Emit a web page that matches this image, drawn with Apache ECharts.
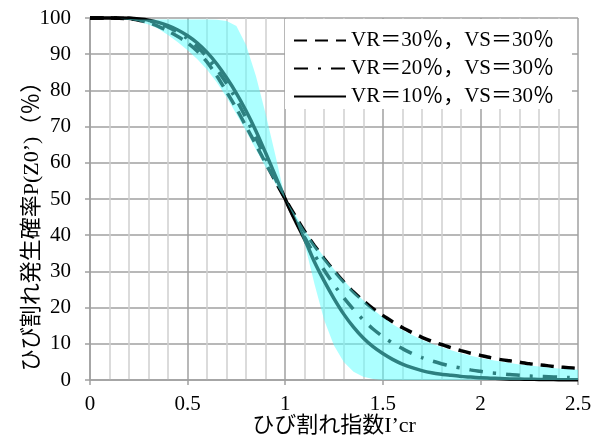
<!DOCTYPE html>
<html>
<head>
<meta charset="utf-8">
<script src="https://cdn.jsdelivr.net/npm/echarts@6/dist/echarts.min.js"></script>
<style>
  html, body { margin: 0; padding: 0; background: #fff; }
  #chart { width: 603px; height: 446px; }
</style>
</head>
<body>
<div id="chart"></div>
<script>
// Crack index I'cr (x values shared by every series)
const crackIndex = [
  0, 0.05, 0.1, 0.15, 0.2, 0.25, 0.3, 0.35, 0.4, 0.45,
  0.5, 0.55, 0.6, 0.65, 0.7, 0.75, 0.8, 0.85, 0.9, 0.95,
  1.0, 1.05, 1.1, 1.15, 1.2, 1.25, 1.3, 1.35, 1.4, 1.45,
  1.5, 1.55, 1.6, 1.65, 1.7, 1.75, 1.8, 1.85, 1.9, 1.95,
  2.0, 2.05, 2.1, 2.15, 2.2, 2.25, 2.3, 2.35, 2.4, 2.45, 2.5
];

// Cracking probability P (%) for VR = 30 %, VS = 30 %
const probVR30 = [
  100, 100, 100, 99.9, 99.8, 99.4, 98.7, 97.7, 96.4, 94.9,
  93.1, 90.8, 87.8, 84.0, 79.6, 75.0, 70.0, 65.0, 59.9, 54.9,
  50, 45.4, 41.0, 37.1, 33.5, 30.2, 27.1, 24.3, 21.9, 19.7,
  17.8, 16.1, 14.5, 13.1, 11.8, 10.7, 9.8, 8.9, 8.1, 7.4,
  6.8, 6.2, 5.7, 5.3, 4.9, 4.5, 4.2, 3.9, 3.6, 3.4, 3.2
];

// Cracking probability P (%) for VR = 20 %, VS = 30 %
const probVR20 = [
  100, 100, 100, 100, 99.9, 99.6, 99.2, 98.5, 97.5, 96.1,
  94.3, 92.0, 89.2, 85.8, 81.9, 77.4, 72.3, 66.8, 61.2, 55.6,
  50, 44.5, 39.4, 34.6, 30.3, 26.3, 22.7, 19.5, 16.6, 14.1,
  12.0, 10.2, 8.7, 7.3, 6.2, 5.3, 4.5, 3.8, 3.3, 2.8,
  2.4, 2.0, 1.8, 1.5, 1.3, 1.1, 1.0, 0.9, 0.8, 0.7, 0.6
];

// Cracking probability P (%) for VR = 10 %, VS = 30 %
const probVR10 = [
  100, 100, 100, 100, 99.9, 99.7, 99.4, 98.8, 97.9, 96.7,
  95.1, 93.1, 90.5, 87.3, 83.5, 79.2, 74.3, 68.8, 62.7, 56.4,
  50, 44.2, 38.8, 32.6, 27.3, 22.5, 18.2, 14.6, 11.6, 9.2,
  7.3, 5.7, 4.4, 3.4, 2.6, 2.0, 1.6, 1.3, 1.0, 0.8,
  0.6, 0.5, 0.4, 0.3, 0.25, 0.2, 0.15, 0.12, 0.1, 0.08, 0.06
];

// Shaded range of P (%): upper and lower edges
const rangeHigh = [
  100, 100, 99.9, 99.8, 99.7, 99.6, 99.6, 99.6, 99.6, 99.6,
  99.6, 99.6, 99.6, 99.5, 99.2, 97.8, 92.5, 84.0, 73.5, 62.0,
  50, 45.8, 41.4, 37.5, 33.9, 30.6, 27.5, 24.6, 22.0, 19.5,
  17.3, 15.4, 13.8, 12.4, 11.1, 10.0, 9.1, 8.2, 7.4, 6.7,
  6.1, 5.6, 5.1, 4.7, 4.3, 4.0, 3.7, 3.4, 3.2, 3.0, 2.8
];
const rangeLow = [
  100, 100, 99.9, 99.8, 99.5, 99.0, 98.2, 97.0, 95.3, 93.3,
  91.1, 88.6, 85.7, 82.2, 78.1, 73.5, 68.7, 63.7, 58.8, 54.3,
  50, 44.6, 37.6, 26.5, 16.5, 9.5, 5.0, 2.3, 0.9, 0.3,
  0, 0, 0, 0, 0, 0, 0, 0, 0, 0,
  0, 0, 0, 0, 0, 0, 0, 0, 0, 0, 0
];

const seriesNames = ['VR＝30％，VS＝30％', 'VR＝20％，VS＝30％', 'VR＝10％，VS＝30％'];
const xTitle = 'ひび割れ指数I’cr';
const yTitle = 'ひび割れ発生確率P(Z0’)（％）';

const FONT = "'Liberation Serif', 'Noto Sans CJK JP', serif";
const pairs = arr => crackIndex.map((x, i) => [x, arr[i]]);

const chart = echarts.init(document.getElementById('chart'), null, { renderer: 'canvas' });

const lineSeries = (name, values, type) => ({
  name: name,
  type: 'line',
  data: pairs(values),
  smooth: 0.25,
  symbol: 'none',
  clip: false,
  z: 2,
  lineStyle: { color: '#000', width: 3.5, type: type, cap: 'butt' },
  itemStyle: { color: '#000' }
});

// Shaded band: one polygon, upper edge left to right then lower edge back
function renderRange(params, api) {
  if (params.dataIndex !== 0) return null;
  const pts = [];
  for (let i = 0; i < crackIndex.length; i++) {
    pts.push(api.coord([crackIndex[i], rangeHigh[i]]));
  }
  for (let i = crackIndex.length - 1; i >= 0; i--) {
    pts.push(api.coord([crackIndex[i], rangeLow[i]]));
  }
  return {
    type: 'polygon',
    shape: { points: pts },
    style: { fill: 'rgba(90,255,255,0.5)', stroke: null }
  };
}

chart.setOption({
  animation: false,
  backgroundColor: '#fff',
  textStyle: { fontFamily: FONT },
  grid: { left: 90, right: 25, top: 18, bottom: 66, containLabel: false },
  legend: {
    data: seriesNames,
    orient: 'vertical',
    left: 285,
    top: 19,
    padding: [11, 18, 2, 8],
    itemGap: 7,
    itemWidth: 52,
    itemHeight: 14,
    backgroundColor: '#fff',
    itemStyle: { color: 'rgba(0,0,0,0)', borderWidth: 0, opacity: 0 },
    textStyle: { fontFamily: FONT, fontSize: 21, color: '#000' }
  },
  // vertical axis title, read bottom to top
  graphic: [{
    type: 'text',
    x: 32,
    y: 221,
    rotation: Math.PI / 2,
    silent: true,
    style: {
      text: yTitle,
      fontFamily: FONT,
      fontSize: 22,
      fill: '#000',
      align: 'center',
      verticalAlign: 'middle'
    }
  }],
  xAxis: {
    type: 'value',
    min: 0,
    max: 2.5,
    interval: 0.5,
    name: xTitle,
    nameLocation: 'middle',
    nameGap: 35,
    nameMoveOverlap: false,
    nameTextStyle: { fontFamily: FONT, fontSize: 22, color: '#000' },
    axisLine: { show: true, lineStyle: { color: '#a0a0a0', width: 1.5 } },
    axisTick: { show: true, inside: false, length: 5, lineStyle: { color: '#a0a0a0', width: 1.5 } },
    axisLabel: { fontFamily: FONT, fontSize: 21, color: '#000', margin: 14 },
    splitLine: { show: true, lineStyle: { color: '#a0a0a0', width: 1.5 } },
    minorTick: { show: false, splitNumber: 5 },
    minorSplitLine: { show: true, lineStyle: { color: '#cfcfcf', width: 1.5 } }
  },
  yAxis: {
    type: 'value',
    min: 0,
    max: 100,
    interval: 10,
    axisLine: { show: true, lineStyle: { color: '#a0a0a0', width: 1.5 } },
    axisTick: { show: true, inside: false, length: 5, lineStyle: { color: '#a0a0a0', width: 1.5 } },
    axisLabel: { fontFamily: FONT, fontSize: 21, color: '#000', margin: 19 },
    splitLine: { show: true, lineStyle: { color: '#a0a0a0', width: 1.5 } }
  },
  series: [
    lineSeries(seriesNames[0], probVR30, [13, 8]),
    lineSeries(seriesNames[1], probVR20, [14, 10, 3, 10]),
    lineSeries(seriesNames[2], probVR10, 'solid'),
    {
      name: 'range',
      type: 'custom',
      data: [[0, 0]],
      encode: { x: 0, y: 1 },
      renderItem: renderRange,
      clip: true,
      z: 3,
      silent: true
    }
  ]
});
</script>
</body>
</html>
